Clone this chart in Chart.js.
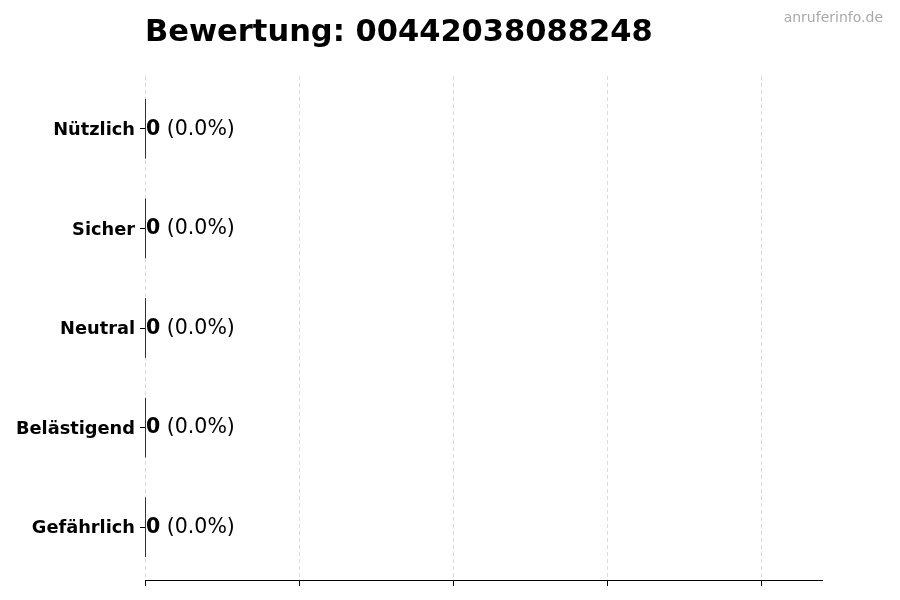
<!DOCTYPE html>
<html>
<head>
<meta charset="utf-8">
<script src="https://cdn.jsdelivr.net/npm/chart.js@4"></script>
<style>
  html, body { margin: 0; padding: 0; background: #fff; }
  #wrap { width: 900px; height: 600px; }
</style>
</head>
<body>
<div id="wrap"><canvas id="ratingChart"></canvas></div>
<script>
// Daten
const categories = ['Nützlich', 'Sicher', 'Neutral', 'Belästigend', 'Gefährlich'];
const counts = [0, 0, 0, 0, 0];
const percents = [0.0, 0.0, 0.0, 0.0, 0.0];
const titleText = 'Bewertung: 00442038088248';
const watermark = 'anruferinfo.de';

const FONT = '"DejaVu Sans", sans-serif';

// y-Achse etwas weiter als die Kategorien (wie matplotlib-Rand)
const yRangePlugin = {
  id: 'yRange',
  afterLayout(chart) {
    const y = chart.scales.y;
    y._startValue = -0.53;
    y._valueRange = categories.length - 1 + 1.06;
  }
};

// Titel, Wasserzeichen, Balkenkanten und Beschriftungen
const extrasPlugin = {
  id: 'extras',
  afterDatasetsDraw(chart) {
    const ctx = chart.ctx;
    const area = chart.chartArea;
    const meta = chart.getDatasetMeta(0);
    ctx.save();
    meta.data.forEach((bar, i) => {
      const h = bar.height;
      // Kante des (leeren) Balkens
      ctx.strokeStyle = '#333';
      ctx.lineWidth = 1;
      ctx.beginPath();
      ctx.moveTo(Math.round(bar.x) + 0.5, bar.y - h / 2);
      ctx.lineTo(Math.round(bar.x) + 0.5, bar.y + h / 2);
      ctx.stroke();

      // Wert + Prozent
      ctx.fillStyle = '#000';
      ctx.textBaseline = 'middle';
      ctx.textAlign = 'left';
      ctx.font = 'bold 20.5px ' + FONT;
      const num = String(counts[i]);
      const x0 = bar.x + 1;
      ctx.fillText(num, x0, bar.y + 0.5);
      const w = ctx.measureText(num).width;
      ctx.font = '20.5px ' + FONT;
      ctx.fillText(' (' + percents[i].toFixed(1) + '%)', x0 + w, bar.y + 0.5);
    });

    // Titel
    ctx.fillStyle = '#000';
    ctx.font = 'bold 30.5px ' + FONT;
    ctx.textAlign = 'left';
    ctx.textBaseline = 'alphabetic';
    ctx.fillText(titleText, area.left, 41);

    // Wasserzeichen
    ctx.fillStyle = '#aaa';
    ctx.font = '14px ' + FONT;
    ctx.textAlign = 'right';
    ctx.fillText(watermark, 883, 22);
    ctx.restore();
  }
};

new Chart(document.getElementById('ratingChart'), {
  type: 'bar',
  data: {
    labels: categories,
    datasets: [{
      data: counts,
      backgroundColor: '#4a90d9',
      borderWidth: 0,
      barPercentage: 0.6,
      categoryPercentage: 1.0
    }]
  },
  options: {
    indexAxis: 'y',
    responsive: true,
    maintainAspectRatio: false,
    animation: false,
    layout: { padding: { top: 76, right: 78, left: 0, bottom: 0 } },
    plugins: {
      legend: { display: false },
      tooltip: { enabled: false },
      title: { display: false }
    },
    scales: {
      x: {
        min: 0,
        max: 4.396,
        ticks: {
          stepSize: 1,
          callback: () => ''
        },
        afterBuildTicks(scale) {
          scale.ticks = scale.ticks.filter(t => Number.isInteger(t.value));
        },
        grid: {
          color: '#dcdcdc',
          lineWidth: 1,
          drawTicks: true,
          tickLength: 6,
          tickColor: '#000',
          tickBorderDash: []
        },
        border: { display: true, color: '#000', width: 1, dash: [4, 3] },
        afterFit(scale) { scale.height = 20; }
      },
      y: {
        ticks: {
          color: '#000',
          font: { family: FONT, size: 17.8, weight: 'bold' },
          padding: 5,
          labelOffset: 1.5
        },
        grid: {
          offset: false,
          drawOnChartArea: false,
          drawTicks: true,
          tickLength: 5,
          tickColor: '#000'
        },
        border: { display: false },
        afterFit(scale) { scale.width = 145; }
      }
    }
  },
  plugins: [yRangePlugin, extrasPlugin]
});
</script>
</body>
</html>
